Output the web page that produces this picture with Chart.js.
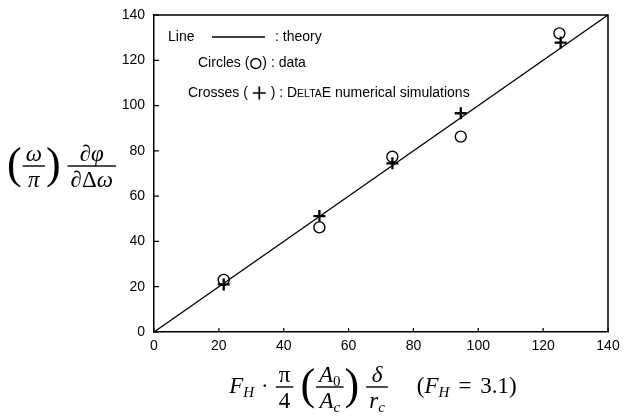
<!DOCTYPE html>
<html lang="en">
<head>
<meta charset="UTF-8">
<title>Theory vs data vs DeltaE</title>
<script src="https://cdn.jsdelivr.net/npm/chart.js@4"></script>
<style>
  html, body { margin: 0; padding: 0; background: #fff; }
  #wrap { width: 623px; height: 418px; }
</style>
</head>
<body>
<div id="wrap"><canvas id="chart" width="623" height="418"></canvas></div>
<script>
// values
const theoryX = [0, 140];
const theoryY = [0, 140];
const dataX = [21.5, 51, 73.5, 94.6, 125];
const dataY = [23, 46.2, 77.4, 86.3, 131.9];
const simX = [21.5, 51, 73.5, 94.6, 125.4];
const simY = [21, 51.2, 74.5, 96.6, 127.8];
const axisTicks = [0, 20, 40, 60, 80, 100, 120, 140];

const SANS = '"Liberation Sans", Arial, sans-serif';
const SERIF = '"Liberation Serif", "Times New Roman", serif';

function pts(xs, ys) { return xs.map((x, i) => ({ x: x, y: ys[i] })); }

// tiny math layout: runs of text items, fractions and gaps
function itemWidth(ctx, it) {
  if (it.gap) return it.gap;
  if (it.frac) return Math.max(runWidth(ctx, it.frac[0]), runWidth(ctx, it.frac[1])) + 8;
  ctx.font = it.f;
  return ctx.measureText(it.s).width;
}
function runWidth(ctx, run) {
  let w = 0;
  for (const it of run) w += itemWidth(ctx, it);
  return w;
}
// y is the math axis (fraction bar height)
function drawRun(ctx, run, x, y) {
  for (const it of run) {
    const w = itemWidth(ctx, it);
    if (it.frac) {
      const nw = runWidth(ctx, it.frac[0]), dw = runWidth(ctx, it.frac[1]);
      ctx.fillRect(x + 1, y - 0.7, w - 2, 1.4);
      drawRun(ctx, it.frac[0], x + (w - nw) / 2, y - 11);
      drawRun(ctx, it.frac[1], x + (w - dw) / 2, y + 15);
    } else if (!it.gap) {
      ctx.font = it.f;
      ctx.fillText(it.s, x, y + 6 + (it.dy || 0));
    }
    x += w;
  }
}

const it = (s) => ({ s: s, f: 'italic 23px ' + SERIF });
const rm = (s) => ({ s: s, f: '23px ' + SERIF });
const sub = (s, up) => ({ s: s, f: (up ? '' : 'italic ') + '15px ' + SERIF, dy: 4 });
const big = (s) => ({ s: s, f: '44px ' + SERIF, dy: 6 });

const xLabel = [
  it('F'), sub('H'), { gap: 7 }, rm('·'), { gap: 6 },
  { frac: [[rm('π')], [rm('4')]] }, { gap: 6 },
  big('('), { frac: [[it('A'), sub('0', true)], [it('A'), sub('c')]] }, big(')'), { gap: 6 },
  { frac: [[it('δ')], [it('r'), sub('c')]] }, { gap: 28 },
  rm('('), it('F'), sub('H'), { gap: 9 }, rm('='), { gap: 9 }, rm('3.1)')
];
const yLabel = [
  big('('), { frac: [[it('ω')], [it('π')]] }, big(')'), { gap: 6 },
  { frac: [[rm('∂'), it('φ')], [rm('∂Δ'), it('ω')]] }
];

const decorPlugin = {
  id: 'decor',
  afterDraw(chart) {
    const ctx = chart.ctx, a = chart.chartArea;
    const xs = chart.scales.x, ys = chart.scales.y;
    ctx.save();
    ctx.strokeStyle = '#000';
    ctx.fillStyle = '#000';
    // top and right frame
    ctx.lineWidth = 1.5;
    ctx.beginPath();
    ctx.moveTo(a.left, a.top); ctx.lineTo(a.right, a.top); ctx.lineTo(a.right, a.bottom);
    ctx.stroke();
    // inward ticks
    ctx.lineWidth = 1.2;
    ctx.beginPath();
    axisTicks.forEach(v => {
      const px = xs.getPixelForValue(v), py = ys.getPixelForValue(v);
      ctx.moveTo(px, a.bottom); ctx.lineTo(px, a.bottom - 4);
      ctx.moveTo(a.left, py); ctx.lineTo(a.left + 5, py);
    });
    ctx.stroke();

    // legend text inside the plot
    ctx.textBaseline = 'middle';
    const f14 = '14px ' + SANS, f10 = '10.5px ' + SANS;
    const put = (s, f, x, y) => { ctx.font = f; ctx.fillText(s, x, y); return x + ctx.measureText(s).width; };
    put('Line', f14, 168, 37);
    ctx.lineWidth = 1.3;
    ctx.beginPath(); ctx.moveTo(212, 37); ctx.lineTo(265, 37); ctx.stroke();
    put(': theory', f14, 275, 37);

    let x = put('Circles (', f14, 198, 63);
    ctx.lineWidth = 1.4;
    ctx.beginPath(); ctx.arc(x + 6.5, 63.5, 5, 0, Math.PI * 2); ctx.stroke();
    put(') : data', f14, x + 13, 63);

    x = put('Crosses ( ', f14, 188, 93);
    ctx.lineWidth = 1.7;
    ctx.beginPath();
    ctx.moveTo(x + 1, 93); ctx.lineTo(x + 14, 93);
    ctx.moveTo(x + 7.5, 86.5); ctx.lineTo(x + 7.5, 99.5);
    ctx.stroke();
    x = put(' ) : D', f14, x + 15, 93);
    x = put('ELTA', f10, x, 94);
    put('E numerical simulations', f14, x, 93);

    // axis titles
    ctx.textBaseline = 'alphabetic';
    const xw = runWidth(ctx, xLabel);
    drawRun(ctx, xLabel, 373 - xw / 2, 387);
    drawRun(ctx, yLabel, 7, 166);
    ctx.restore();
  }
};

new Chart(document.getElementById('chart'), {
  type: 'scatter',
  data: {
    datasets: [
      { label: 'theory', data: pts(theoryX, theoryY), showLine: true, borderColor: '#000',
        borderWidth: 1.3, pointRadius: 0, fill: false },
      { label: 'data', data: pts(dataX, dataY), pointStyle: 'circle', pointRadius: 5.5,
        borderColor: '#000', borderWidth: 1.4, backgroundColor: 'rgba(0,0,0,0)' },
      { label: 'simulations', data: pts(simX, simY), pointStyle: 'cross', pointRadius: 6,
        borderColor: '#000', borderWidth: 2.3 }
    ]
  },
  options: {
    responsive: false,
    animation: false,
    layout: { padding: { left: 0, right: 15, top: 15, bottom: 0 } },
    plugins: { legend: { display: false }, tooltip: { enabled: false } },
    scales: {
      x: {
        type: 'linear', min: 0, max: 140,
        afterBuildTicks: s => { s.ticks = axisTicks.map(v => ({ value: v })); },
        afterFit: s => { s.height = 86; s.paddingLeft = 0; s.paddingRight = 0; },
        grid: { display: false, drawTicks: false },
        border: { display: true, color: '#000', width: 1.5 },
        ticks: { color: '#000', font: { family: SANS, size: 14 }, padding: 6, maxRotation: 0 }
      },
      y: {
        type: 'linear', min: 0, max: 140,
        afterBuildTicks: s => { s.ticks = axisTicks.map(v => ({ value: v })); },
        afterFit: s => { s.width = 154; s.paddingTop = 0; s.paddingBottom = 0; },
        grid: { display: false, drawTicks: false },
        border: { display: true, color: '#000', width: 1.5 },
        ticks: { color: '#000', font: { family: SANS, size: 14 }, padding: 9 }
      }
    }
  },
  plugins: [decorPlugin]
});
</script>
</body>
</html>
